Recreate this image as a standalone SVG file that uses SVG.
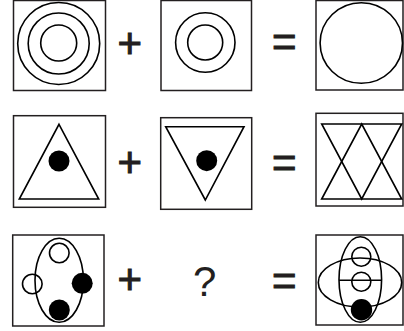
<svg xmlns="http://www.w3.org/2000/svg" width="404" height="331" viewBox="0 0 404 331">
<style>
.box{fill:none;stroke:#231f20;stroke-width:1.5}
.ln{fill:none;stroke:#000;stroke-width:1.6}
.dot{fill:#000;stroke:none}
.op{font-family:"Liberation Sans",Arial,sans-serif;font-size:42px;fill:#231f20;text-anchor:middle}
.sym{stroke:#231f20;stroke-width:1}
</style>
<rect width="404" height="331" fill="#fff"/>
<g id="r1a">
<rect class="box" x="13.5" y="0.5" width="92" height="90"/>
<circle class="ln" cx="58.7" cy="43.5" r="41"/>
<circle class="ln" cx="58.7" cy="43.5" r="30.5"/>
<circle class="ln" cx="58.7" cy="43" r="18"/>
</g>
<g id="r1b">
<rect class="box" x="161" y="0.5" width="90.5" height="90"/>
<circle class="ln" cx="205.3" cy="42.5" r="29.7"/>
<circle class="ln" cx="205.2" cy="42.5" r="17.5"/>
</g>
<g id="r1c">
<rect class="box" x="316" y="0.5" width="87" height="89.5"/>
<ellipse class="ln" cx="361.3" cy="43" rx="41.2" ry="40.3"/>
</g>
<g id="r2a">
<rect class="box" x="13.5" y="115.7" width="92" height="91.6"/>
<polygon class="ln" points="59,124.3 98.7,199 19.3,199"/>
<circle class="dot" cx="59" cy="161" r="10.5"/>
</g>
<g id="r2b">
<rect class="box" x="160.7" y="117.7" width="91" height="91.6"/>
<polygon class="ln" points="165.7,126.7 244,126.7 205.3,200"/>
<circle class="dot" cx="206.7" cy="160.7" r="10.5"/>
</g>
<g id="r2c">
<rect class="box" x="316" y="113.3" width="87" height="92.7"/>
<polygon class="ln" points="321.7,199 361.7,124 401.7,199"/>
<polygon class="ln" points="321.7,124 401.7,124 361.7,199"/>
</g>
<g id="r3a">
<rect class="box" x="12.7" y="235" width="91.3" height="91"/>
<ellipse class="ln" cx="59.2" cy="280.3" rx="24.2" ry="42"/>
<circle class="ln" cx="59.3" cy="253" r="9.8" fill="#fff"/>
<circle class="ln" cx="32.3" cy="284" r="9.8" fill="#fff"/>
<circle class="dot" cx="82.2" cy="283.3" r="10.5"/>
<circle class="dot" cx="59.3" cy="310" r="10.5"/>
</g>
<g id="r3c">
<rect class="box" x="316" y="235" width="87" height="90"/>
<ellipse class="ln" cx="360.3" cy="279.5" rx="21.3" ry="42.8"/>
<ellipse class="ln" cx="360" cy="282.5" rx="41.7" ry="24.5"/>
<line class="ln" x1="339" y1="280.3" x2="381.7" y2="280.3"/>
<circle class="ln" cx="361.3" cy="256.7" r="9.5"/>
<circle class="ln" cx="361.3" cy="281.7" r="9.5"/>
<circle class="dot" cx="361.5" cy="309.7" r="10.7"/>
</g>
<g id="ops">
<text class="op sym" x="129.7" y="58">+</text>
<text class="op sym" x="284.3" y="56.4">=</text>
<text class="op sym" x="129.7" y="177.3">+</text>
<text class="op sym" x="284.3" y="177.2">=</text>
<text class="op sym" x="129.7" y="293.8">+</text>
<text class="op sym" x="284.3" y="294.9">=</text>
<text class="op" x="204.8" y="296">?</text>
</g>
</svg>
